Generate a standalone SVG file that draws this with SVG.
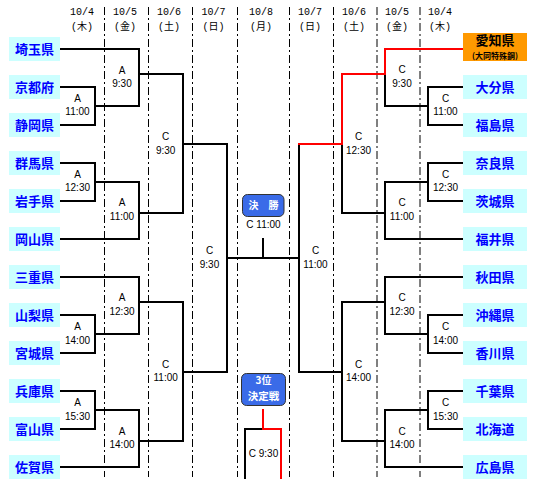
<svg xmlns="http://www.w3.org/2000/svg" width="536" height="493" viewBox="0 0 536 493">
<style>
.hd{font-family:"Liberation Mono","Noto Sans CJK JP",monospace;font-size:10px;fill:#000;text-anchor:middle}
.lb{font-family:"Liberation Sans",Arial,sans-serif;font-size:10px;fill:#000;text-anchor:middle}
.nb{fill:#ccffff}
.nt{font-family:"Noto Sans CJK JP",sans-serif;font-size:13px;font-weight:bold;fill:#0000ff;text-anchor:middle}
.dv{stroke:#000;stroke-width:1;stroke-dasharray:8,3,2,3;fill:none}
.ln{stroke:#000;stroke-width:2;fill:none;stroke-linecap:square}
.rd{stroke:#ff0000;stroke-width:2;fill:none;stroke-linecap:square}
.bb{fill:#3a6be8;stroke:#333;stroke-width:1}
.bt{font-family:"Noto Sans CJK JP",sans-serif;font-weight:bold;fill:#fff;text-anchor:middle}
</style>
<rect width="536" height="493" fill="#fff"/>
<g id="header">
<text class="hd" x="82" y="15">10/4</text><text class="hd" x="82" y="30">(木)</text>
<text class="hd" x="125" y="15">10/5</text><text class="hd" x="125" y="30">(金)</text>
<text class="hd" x="169" y="15">10/6</text><text class="hd" x="169" y="30">(土)</text>
<text class="hd" x="213.5" y="15">10/7</text><text class="hd" x="213.5" y="30">(日)</text>
<text class="hd" x="261" y="15">10/8</text><text class="hd" x="261" y="30">(月)</text>
<text class="hd" x="310" y="15">10/7</text><text class="hd" x="310" y="30">(日)</text>
<text class="hd" x="354" y="15">10/6</text><text class="hd" x="354" y="30">(土)</text>
<text class="hd" x="397" y="15">10/5</text><text class="hd" x="397" y="30">(金)</text>
<text class="hd" x="440" y="15">10/4</text><text class="hd" x="440" y="30">(木)</text>
</g>
<g id="dividers">
<path class="dv" d="M104.5,7V477M148.5,7V477M192.5,7V477M237.5,7V477M289.5,7V477M333.5,7V477M377,7V477M420,7V477"/>
</g>
<g id="connectors">
<path class="ln" d="M60,49H139M60,87H95V125H60M95,106H139M139,49V106M139,74H183M60,163H95V201H60M95,182H139M60,239H139M139,182V239M139,213H183M183,74V213M183,144H227"/>
<path class="ln" d="M60,277H139M60,315H95V353H60M95,334H139M139,277V334M139,302H183M60,391H95V429H60M95,410H139M60,467H139M139,410V467M139,441H183M183,302V441M183,372H227M227,144V372M227,258H299M263,239V258"/>
<path class="ln" d="M385,74V106M463,87H428V125H463M428,106H385M342,144V213M463,163H428V201H463M428,182H385M463,239H385M385,182V239M385,213H342"/>
<path class="ln" d="M463,277H385M463,315H428V353H463M428,334H385M385,277V334M385,302H342M463,391H428V429H463M428,410H385M463,467H385M385,410V467M385,441H342M342,302V441M342,372H299M299,144V372"/>
<path class="ln" d="M263,429H245V478"/>
<path class="rd" d="M463,49H385V74H342V144H299"/>
<path class="rd" d="M263,410V429H281V478"/>
</g>
<g id="labels">
<text class="lb" x="77.5" y="101.5">A</text><text class="lb" x="77.5" y="115.2">11:00</text>
<text class="lb" x="77.5" y="177.8">A</text><text class="lb" x="77.5" y="191.2">12:30</text>
<text class="lb" x="77.5" y="330.2">A</text><text class="lb" x="77.5" y="343.5">14:00</text>
<text class="lb" x="77.5" y="406.2">A</text><text class="lb" x="77.5" y="419.5">15:30</text>
<text class="lb" x="122" y="73.5">A</text><text class="lb" x="122" y="86.8">9:30</text>
<text class="lb" x="122" y="206.2">A</text><text class="lb" x="122" y="219.5">11:00</text>
<text class="lb" x="122" y="301.2">A</text><text class="lb" x="122" y="314.5">12:30</text>
<text class="lb" x="122" y="434.5">A</text><text class="lb" x="122" y="447.8">14:00</text>
<text class="lb" x="165.7" y="140.2">C</text><text class="lb" x="165.7" y="153.5">9:30</text>
<text class="lb" x="165.7" y="367.8">C</text><text class="lb" x="165.7" y="381.2">11:00</text>
<text class="lb" x="209.5" y="253.5">C</text><text class="lb" x="209.5" y="267.8">9:30</text>
<text class="lb" x="445.5" y="101.5">C</text><text class="lb" x="445.5" y="115.2">11:00</text>
<text class="lb" x="445.5" y="177.8">C</text><text class="lb" x="445.5" y="191.2">12:30</text>
<text class="lb" x="445.5" y="330.2">C</text><text class="lb" x="445.5" y="343.5">14:00</text>
<text class="lb" x="445.5" y="406.2">C</text><text class="lb" x="445.5" y="419.5">15:30</text>
<text class="lb" x="402" y="73">C</text><text class="lb" x="402" y="86.8">9:30</text>
<text class="lb" x="402" y="206.2">C</text><text class="lb" x="402" y="219.5">11:00</text>
<text class="lb" x="402" y="301.2">C</text><text class="lb" x="402" y="314.5">12:30</text>
<text class="lb" x="402" y="434.5">C</text><text class="lb" x="402" y="447.8">14:00</text>
<text class="lb" x="358.5" y="140.2">C</text><text class="lb" x="358.5" y="153.5">12:30</text>
<text class="lb" x="358.5" y="367.8">C</text><text class="lb" x="358.5" y="381.2">14:00</text>
<text class="lb" x="315.5" y="253.5">C</text><text class="lb" x="315.5" y="267.8">11:00</text>
<text class="lb" x="263.5" y="227.8">C 11:00</text>
<text class="lb" x="263.5" y="456.8">C 9:30</text>
</g>
<g id="final">
<rect class="bb" x="242.5" y="194.5" width="41.5" height="22" rx="5"/>
<text class="bt" x="263.5" y="209" font-size="10">決　勝</text>
</g>
<g id="third">
<rect class="bb" x="241.5" y="373.5" width="44" height="32" rx="5"/>
<text class="bt" x="263.5" y="384" font-size="10">3位</text>
<text class="bt" x="263.5" y="399.5" font-size="10.5">決定戦</text>
</g>
<g id="n-saitama"><rect class="nb" x="9" y="37" width="51" height="24"/><text class="nt" x="34.5" y="53.7">埼玉県</text></g>
<g id="n-kyoto"><rect class="nb" x="9" y="75" width="51" height="24"/><text class="nt" x="34.5" y="91.7">京都府</text></g>
<g id="n-shizuoka"><rect class="nb" x="9" y="113" width="51" height="24"/><text class="nt" x="34.5" y="129.7">静岡県</text></g>
<g id="n-gunma"><rect class="nb" x="9" y="151" width="51" height="24"/><text class="nt" x="34.5" y="167.7">群馬県</text></g>
<g id="n-iwate"><rect class="nb" x="9" y="189" width="51" height="24"/><text class="nt" x="34.5" y="205.7">岩手県</text></g>
<g id="n-okayama"><rect class="nb" x="9" y="227" width="51" height="24"/><text class="nt" x="34.5" y="243.7">岡山県</text></g>
<g id="n-mie"><rect class="nb" x="9" y="265" width="51" height="24"/><text class="nt" x="34.5" y="281.7">三重県</text></g>
<g id="n-yamanashi"><rect class="nb" x="9" y="303" width="51" height="24"/><text class="nt" x="34.5" y="319.7">山梨県</text></g>
<g id="n-miyagi"><rect class="nb" x="9" y="341" width="51" height="24"/><text class="nt" x="34.5" y="357.7">宮城県</text></g>
<g id="n-hyogo"><rect class="nb" x="9" y="379" width="51" height="24"/><text class="nt" x="34.5" y="395.7">兵庫県</text></g>
<g id="n-toyama"><rect class="nb" x="9" y="417" width="51" height="24"/><text class="nt" x="34.5" y="433.7">富山県</text></g>
<g id="n-saga"><rect class="nb" x="9" y="455" width="51" height="24"/><text class="nt" x="34.5" y="471.7">佐賀県</text></g>
<g id="n-aichi"><rect x="463" y="33" width="64" height="28" fill="#ff9900"/><text class="nt" x="495" y="45" style="fill:#000">愛知県</text><text x="495" y="58.5" font-family="Noto Sans CJK JP,sans-serif" font-size="8" font-weight="bold" fill="#000" text-anchor="middle">(大同特殊鋼)</text></g>
<g id="n-oita"><rect class="nb" x="463" y="75" width="64" height="24"/><text class="nt" x="495" y="91.7">大分県</text></g>
<g id="n-fukushima"><rect class="nb" x="463" y="113" width="64" height="24"/><text class="nt" x="495" y="129.7">福島県</text></g>
<g id="n-nara"><rect class="nb" x="463" y="151" width="64" height="24"/><text class="nt" x="495" y="167.7">奈良県</text></g>
<g id="n-ibaraki"><rect class="nb" x="463" y="189" width="64" height="24"/><text class="nt" x="495" y="205.7">茨城県</text></g>
<g id="n-fukui"><rect class="nb" x="463" y="227" width="64" height="24"/><text class="nt" x="495" y="243.7">福井県</text></g>
<g id="n-akita"><rect class="nb" x="463" y="265" width="64" height="24"/><text class="nt" x="495" y="281.7">秋田県</text></g>
<g id="n-okinawa"><rect class="nb" x="463" y="303" width="64" height="24"/><text class="nt" x="495" y="319.7">沖縄県</text></g>
<g id="n-kagawa"><rect class="nb" x="463" y="341" width="64" height="24"/><text class="nt" x="495" y="357.7">香川県</text></g>
<g id="n-chiba"><rect class="nb" x="463" y="379" width="64" height="24"/><text class="nt" x="495" y="395.7">千葉県</text></g>
<g id="n-hokkaido"><rect class="nb" x="463" y="417" width="64" height="24"/><text class="nt" x="495" y="433.7">北海道</text></g>
<g id="n-hiroshima"><rect class="nb" x="463" y="455" width="64" height="24"/><text class="nt" x="495" y="471.7">広島県</text></g>
</svg>
